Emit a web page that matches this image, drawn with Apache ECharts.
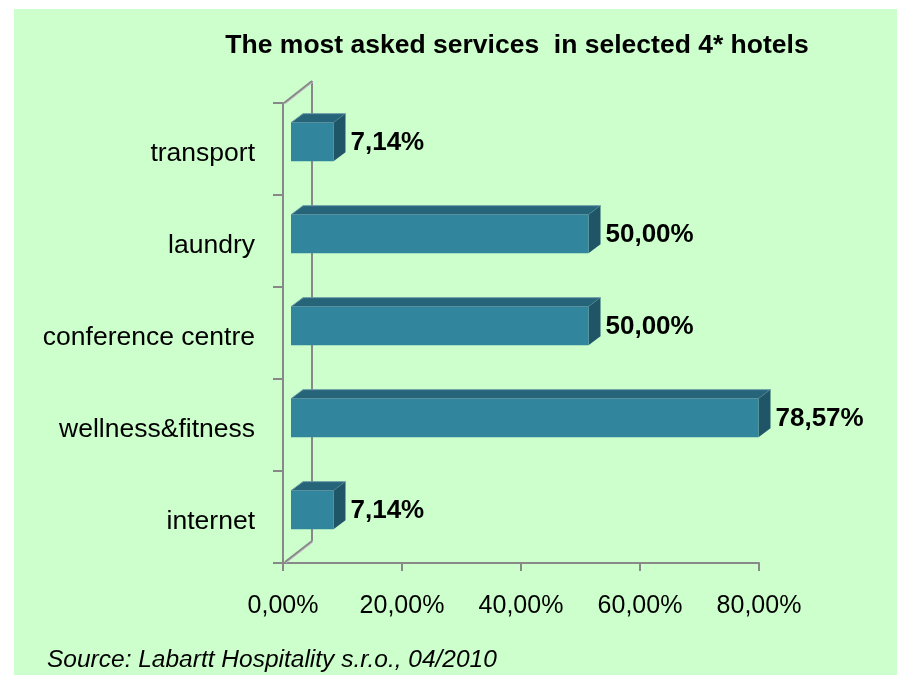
<html>
<head>
    <meta charset="utf-8">
    <title>The most asked services in selected 4* hotels</title>
    <script src="https://cdn.jsdelivr.net/npm/echarts@6/dist/echarts.min.js"></script>
    <style>
        html, body { margin: 0; padding: 0; background: #ffffff; }
        #main { width: 897px; height: 675px; }
    </style>
</head>
<body>
<div id="main"></div>
<script type="text/javascript">
    // data, bottom to top as the category axis draws it
    var categories = ['internet', 'wellness&fitness', 'conference centre', 'laundry', 'transport'];
    var values = [7.14, 78.57, 50.00, 50.00, 7.14];
    var tickLabels = ['0,00%', '20,00%', '40,00%', '60,00%', '80,00%'];

    var font = '"Liberation Sans", Arial, sans-serif';
    var axisGrey = '#888888';

    function fmt(v) {
        return v.toFixed(2).replace('.', ',') + '%';
    }

    var myChart = echarts.init(document.getElementById('main'));

    // 3d bar drawn from the axis scale
    function renderBar(params, api) {
        var v = api.value(0), c = api.value(1);
        var p0 = api.coord([0, c]);
        var p1 = api.coord([v, c]);
        var band = api.size([0, 1])[1];
        var h = band * 0.42;
        var ox = 8, oy = -7;        // position inside the wall depth
        var dx = 12, dy = -9;       // bar depth
        var x0 = p0[0] + ox, x1 = p1[0] + ox;
        var yc = p0[1] + oy;
        var top = yc - h / 2, bottom = yc + h / 2;
        return {
            type: 'group',
            children: [
                {
                    type: 'polygon',
                    shape: { points: [[x0, top], [x0 + dx, top + dy], [x1 + dx, top + dy], [x1, top]] },
                    style: { fill: '#256479', stroke: '#6A98A6', lineWidth: 1 }
                },
                {
                    type: 'polygon',
                    shape: { points: [[x1, top], [x1 + dx, top + dy], [x1 + dx, bottom + dy], [x1, bottom]] },
                    style: { fill: '#1F5567' }
                },
                {
                    type: 'rect',
                    shape: { x: x0, y: top, width: x1 - x0, height: h },
                    style: { fill: '#31869E' }
                },
                {
                    type: 'text',
                    style: {
                        text: fmt(v),
                        x: x1 + dx + 5,
                        y: yc + 1,
                        verticalAlign: 'middle',
                        align: 'left',
                        fill: '#000000',
                        font: 'bold 26px ' + font
                    }
                }
            ]
        };
    }

    // back wall edges
    function renderWall(params, api) {
        var band = api.size([0, 1])[1];
        var x0 = api.coord([0, 0])[0];
        var yb = api.coord([0, 0])[1] + band / 2;
        var yt = api.coord([0, categories.length - 1])[1] - band / 2;
        var dx = 29, dy = -22;
        var st = { stroke: axisGrey, lineWidth: 2 };
        var hi = { stroke: '#C9B7CF', lineWidth: 1 };
        return {
            type: 'group',
            children: [
                { type: 'line', shape: { x1: x0 + 3, y1: yb, x2: x0 + dx + 1, y2: yb + dy + 1 }, style: hi },
                { type: 'line', shape: { x1: x0 + 2, y1: yb - 1, x2: x0 + dx, y2: yb + dy }, style: st },
                { type: 'line', shape: { x1: x0 + dx, y1: yb + dy, x2: x0 + dx, y2: yt + dy }, style: st },
                { type: 'line', shape: { x1: x0 + 2, y1: yt + 1, x2: x0 + dx + 1, y2: yt + dy + 1 }, style: hi },
                { type: 'line', shape: { x1: x0 + 1, y1: yt, x2: x0 + dx, y2: yt + dy }, style: st }
            ]
        };
    }

    var barData = values.map(function (v, i) { return [v, i]; });

    var option = {
        backgroundColor: '#ffffff',
        animation: false,
        graphic: [
            {
                type: 'rect', z: -10,
                shape: { x: 14, y: 9, width: 897, height: 675 },
                style: { fill: '#CCFFCC' }
            },
            {
                type: 'text',
                style: {
                    text: 'The most asked services  in selected 4* hotels',
                    x: 517, y: 46, align: 'center', verticalAlign: 'middle',
                    fill: '#000000', font: 'bold 26.5px ' + font
                }
            },
            {
                type: 'text',
                style: {
                    text: 'Source: Labartt Hospitality s.r.o., 04/2010',
                    x: 47, y: 660, align: 'left', verticalAlign: 'middle',
                    fill: '#000000', font: 'italic 24.5px ' + font
                }
            }
        ],
        grid: {
            left: 283,
            right: 138,
            top: 103,
            bottom: 112
        },
        xAxis: {
            type: 'value',
            min: 0,
            max: 80,
            interval: 20,
            splitLine: { show: false },
            axisLine: { show: true, lineStyle: { color: axisGrey, width: 2 } },
            axisTick: { show: true, length: 8, lineStyle: { color: axisGrey, width: 2 } },
            axisLabel: {
                margin: 31,
                color: '#000000',
                fontFamily: font,
                fontSize: 25,
                formatter: function (v) { return tickLabels[v / 20]; }
            }
        },
        yAxis: {
            type: 'category',
            data: categories,
            axisLine: { show: true, lineStyle: { color: axisGrey, width: 2 } },
            axisTick: { show: true, length: 10, alignWithLabel: false, lineStyle: { color: axisGrey, width: 2 } },
            axisLabel: {
                margin: 28,
                color: '#000000',
                fontFamily: font,
                fontSize: 26.5,
                verticalAlign: 'top',
                lineHeight: 9
            }
        },
        series: [
            {
                type: 'custom',
                z: 1,
                renderItem: renderWall,
                data: [[0, 0]],
                encode: { x: 0, y: 1 }
            },
            {
                type: 'custom',
                z: 3,
                renderItem: renderBar,
                data: barData,
                encode: { x: 0, y: 1 }
            }
        ]
    };
    myChart.setOption(option);
</script>
</body>
</html>
